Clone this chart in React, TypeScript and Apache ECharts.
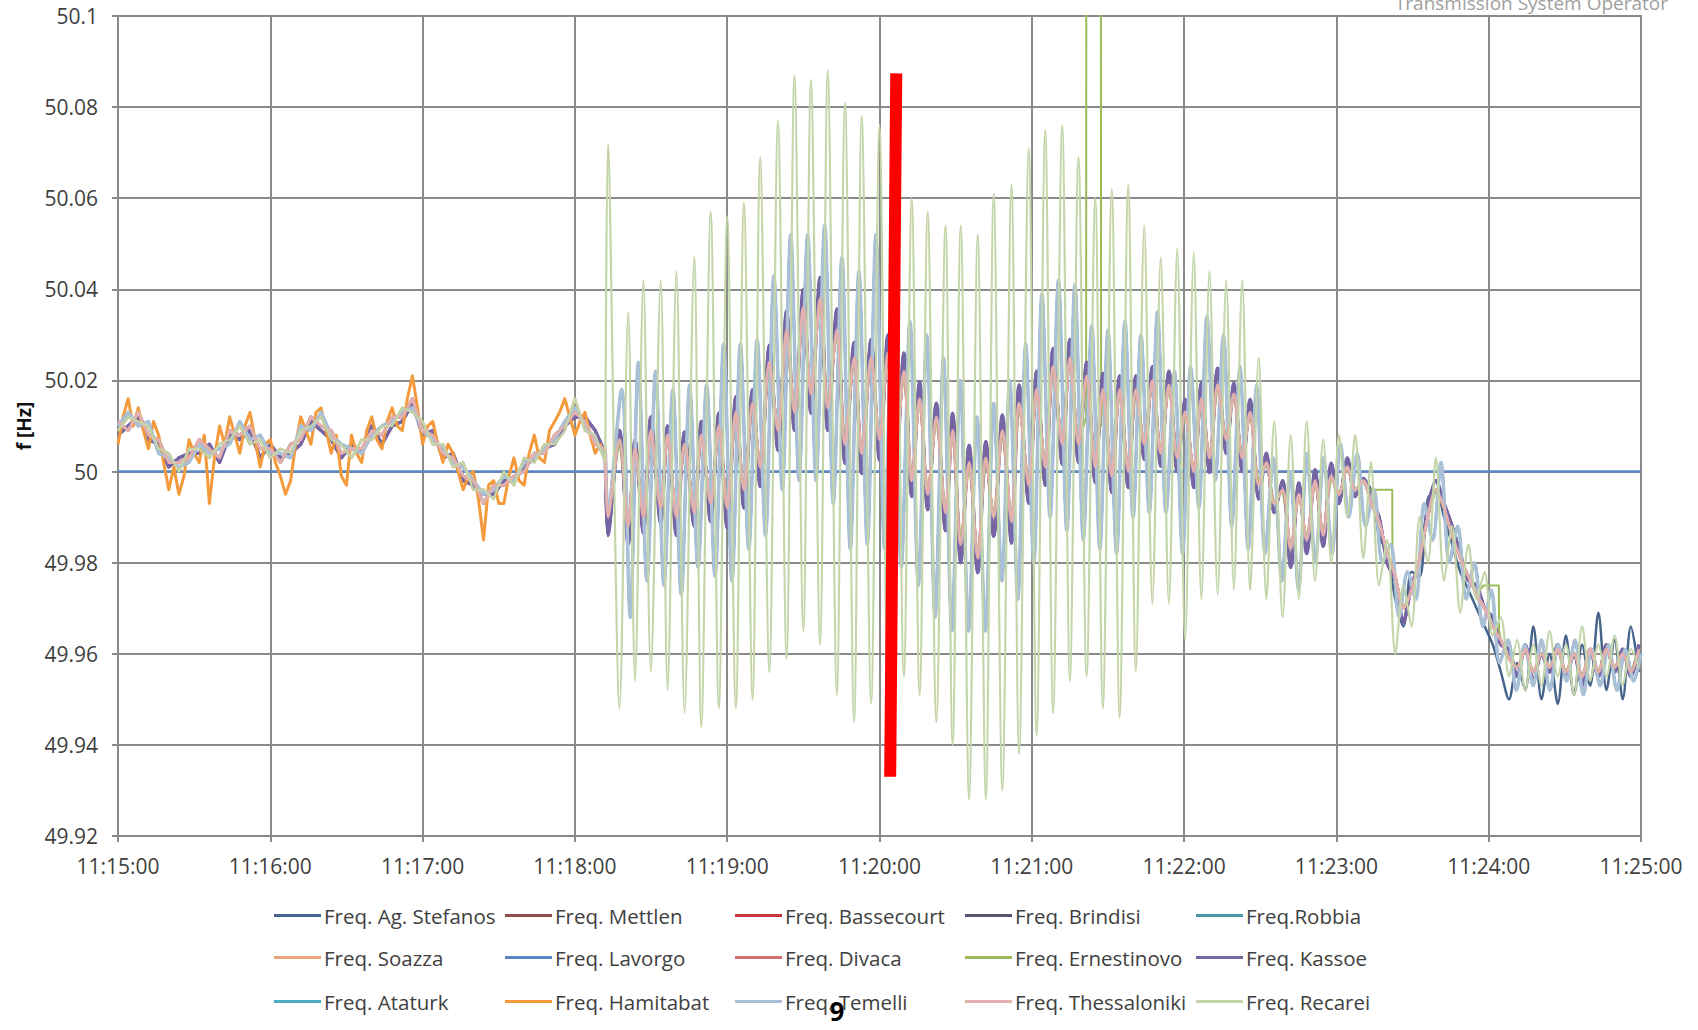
import React, { useEffect, useRef } from "react";
import * as echarts from "echarts";

const W = 1698;
const H = 1030;

// Seconds after 11:15:00
const tEarly = Array.from({ length: 49 }, (_, i) => i * 4);
const tFine = Array.from({ length: 97 }, (_, i) => i * 2);

const hamitabatEarly = [
  50.006, 50.012, 50.016, 50.010, 50.014, 50.009, 50.005, 50.011, 50.008, 50.002,
  49.996, 50.001, 49.995, 49.999, 50.007, 50.004, 50.002, 50.008, 49.993, 50.003,
  50.010, 50.006, 50.012, 50.008, 50.004, 50.010, 50.013, 50.007, 50.001, 50.006,
  50.007, 50.002, 49.999, 49.995, 49.998, 50.006, 50.012, 50.009, 50.006, 50.013,
  50.014, 50.009, 50.004, 50.008, 49.999, 49.997, 50.008, 50.004, 50.002, 50.009,
  50.012, 50.007, 50.005, 50.011, 50.014, 50.010, 50.009, 50.016, 50.021, 50.014,
  50.006, 50.010, 50.011, 50.006, 50.002, 50.006, 50.004, 50.000, 49.996, 49.999,
  50.000, 49.994, 49.985, 49.997, 49.998, 49.993, 49.993, 49.999, 50.003, 49.998,
  49.997, 50.004, 50.008, 50.003, 50.002, 50.009, 50.011, 50.013, 50.016, 50.012,
  50.008, 50.011, 50.013, 50.008, 50.004, 50.006, 50.003,
];

const recareiEarly = [
  50.009, 50.012, 50.011, 50.010, 50.005, 50.004, 50.000, 50.005, 50.005, 50.003,
  50.006, 50.007, 50.010, 50.006, 50.007, 50.003, 50.005, 50.004, 50.009, 50.010,
  50.012, 50.007, 50.006, 50.003, 50.007, 50.007, 50.010, 50.010, 50.014, 50.013,
  50.011, 50.006, 50.006, 50.001, 50.002, 49.996, 49.996, 49.994, 50.000, 49.997,
  50.003, 50.002, 50.006, 50.006, 50.009, 50.016, 50.009, 50.008, 50.002,
];

const thessEarly = [
  50.011, 50.009, 50.013, 50.008, 50.007, 50.002, 50.002, 50.003, 50.007, 50.005,
  50.003, 50.009, 50.008, 50.010, 50.005, 50.005, 50.002, 50.006, 50.007, 50.012,
  50.010, 50.009, 50.004, 50.005, 50.005, 50.009, 50.008, 50.012, 50.012, 50.016,
  50.009, 50.008, 50.004, 50.003, 49.999, 49.998, 49.993, 49.997, 49.997, 49.999,
  50.000, 50.004, 50.004, 50.008, 50.010, 50.013, 50.011, 50.006, 50.005,
];

const temelliEarly = [
  50.010, 50.013, 50.010, 50.011, 50.004, 50.003, 50.001, 50.002, 50.006, 50.004,
  50.005, 50.006, 50.011, 50.007, 50.008, 50.004, 50.004, 50.003, 50.010, 50.009,
  50.013, 50.008, 50.006, 50.005, 50.004, 50.008, 50.010, 50.011, 50.013, 50.014,
  50.009, 50.007, 50.005, 50.002, 50.001, 49.998, 49.995, 49.996, 49.999, 49.998,
  50.002, 50.003, 50.005, 50.007, 50.011, 50.014, 50.010, 50.007, 50.003,
];

const mettlenEarly = [
  50.008, 50.010, 50.012, 50.007, 50.006, 50.001, 50.003, 50.004, 50.004, 50.006,
  50.002, 50.008, 50.007, 50.009, 50.003, 50.006, 50.003, 50.004, 50.006, 50.011,
  50.009, 50.007, 50.003, 50.006, 50.004, 50.010, 50.006, 50.010, 50.011, 50.015,
  50.008, 50.009, 50.003, 50.004, 49.998, 49.997, 49.995, 49.995, 49.998, 49.998,
  50.001, 50.003, 50.005, 50.006, 50.010, 50.012, 50.012, 50.009, 50.004,
];

// Oscillation extrema times (seconds after 11:15:00)
const oscT = [
  193, 197.6, 201, 203.7, 207, 209.9, 213.8, 216.5, 220, 223.2,
  227, 229.8, 233.5, 236.7, 240, 243.4, 246.6, 250, 253, 256.6,
  260, 263.4, 266.5, 270, 273, 276.6, 279.6, 283.2, 286.4, 290,
  293, 296.7, 300, 303.3, 306.3, 309.6, 312.7, 315.8, 319, 322.4,
  326, 328.8, 332, 335.3, 338.7, 341.9, 345, 348.4, 352, 355,
  358.8, 361.9, 365.3, 368.4, 372, 375, 378.4, 381.6, 385, 388,
  391.5, 394.6, 398, 401, 404.3, 407.5, 410.8, 414, 417.3, 420.4,
  423.8, 426.8, 430, 433.2, 436.6, 439.6, 442.9, 446, 449.4, 452.4,
  455.5, 458.8, 462, 465.2, 468.3, 471.6, 474.8, 478, 481, 484.3,
  487.4, 490.6,
  493.6, 496.8, 500, 503.2, 506.4, 509.6, 512.8, 516, 519.2, 522.4,
  525.6, 528.8, 532, 535.2, 538.4, 541.6, 544.8, 548, 551.2, 554.4,
  557.6, 560.8, 564, 567.2, 570.4, 573.6, 576.8, 580, 583.2, 586.4,
  589.6, 592.8, 596, 599.2,
];

const recareiOsc = [
  50.072, 49.948, 50.035, 49.954, 50.042, 49.956, 50.042, 49.952, 50.044, 49.947,
  50.047, 49.944, 50.057, 49.948, 50.056, 49.948, 50.059, 49.950, 50.069, 49.956,
  50.077, 49.959, 50.087, 49.965, 50.086, 49.962, 50.088, 49.951, 50.081, 49.945,
  50.078, 49.949, 50.076, 49.947, 50.070, 49.955, 50.060, 49.951, 50.057, 49.945,
  50.054, 49.940, 50.054, 49.928, 50.052, 49.928, 50.061, 49.930, 50.063, 49.938,
  50.071, 49.942, 50.075, 49.947, 50.076, 49.954, 50.069, 49.955, 50.060, 49.948,
  50.062, 49.946, 50.063, 49.956, 50.054, 49.971, 50.047, 49.971, 50.049, 49.963,
  50.048, 49.972, 50.044, 49.973, 50.042, 49.974, 50.042, 49.974, 50.025, 49.972,
  50.011, 49.968, 50.008, 49.972, 50.011, 49.976, 50.007, 49.980, 50.008, 49.990,
  50.008, 49.981,
  50.002, 49.975, 49.985, 49.960, 49.975, 49.966, 49.990, 49.980, 50.003, 49.976,
  49.988, 49.969, 49.984, 49.972, 49.978, 49.964, 49.968, 49.955, 49.963, 49.952,
  49.962, 49.953, 49.965, 49.955, 49.962, 49.951, 49.966, 49.954, 49.962, 49.955,
  49.964, 49.953, 49.961, 49.957,
];

const kassoeOsc = [
  49.986, 50.009, 49.984, 50.007, 49.9865, 50.012, 49.9887, 50.010, 49.986, 50.0087,
  49.988, 50.011, 49.989, 50.0128, 49.9876, 50.0164, 49.992, 50.018, 49.9967, 50.0277,
  50.0047, 50.0353, 50.009, 50.040, 50.0128, 50.0426, 50.009, 50.0357, 50.0018, 50.0284,
  49.9996, 50.029, 50.0025, 50.030, 49.998, 50.026, 49.9945, 50.0197, 49.9916, 50.015,
  49.987, 50.0128, 49.980, 50.0058, 49.9778, 50.0066, 49.9858, 50.0124, 49.9843, 50.019,
  49.993, 50.022, 49.997, 50.027, 50.0016, 50.029, 50.002, 50.024, 49.9976, 50.0216,
  49.9954, 50.021, 49.9965, 50.021, 50.0027, 50.023, 50.0012, 50.022, 50.000, 50.0158,
  49.9965, 50.0194, 49.9998, 50.0227, 50.004, 50.0194, 50.000, 50.0158, 49.994, 50.004,
  49.991, 49.998, 49.979, 49.9975, 49.982, 50.0004, 49.9836, 50.0018, 49.993, 50.003,
  49.9945, 49.9985,
  49.994, 49.990, 49.980, 49.976, 49.967, 49.975, 49.980, 49.992, 49.998, 49.993,
  49.988, 49.982, 49.976, 49.975, 49.970, 49.968, 49.962, 49.961, 49.955, 49.962,
  49.954, 49.960, 49.956, 49.962, 49.955, 49.960, 49.953, 49.961, 49.955, 49.962,
  49.956, 49.961, 49.955, 49.962,
];

const thessOsc = [
  49.990, 50.007, 49.988, 50.005, 49.990, 50.009, 49.992, 50.008, 49.990, 50.006,
  49.991, 50.008, 49.993, 50.010, 49.992, 50.013, 49.996, 50.015, 50.001, 50.024,
  50.009, 50.031, 50.013, 50.036, 50.017, 50.038, 50.014, 50.031, 50.006, 50.025,
  50.004, 50.025, 50.007, 50.026, 50.003, 50.022, 49.998, 50.016, 49.995, 50.012,
  49.991, 50.009, 49.984, 50.002, 49.981, 50.003, 49.990, 50.009, 49.989, 50.015,
  49.997, 50.018, 50.001, 50.023, 50.006, 50.025, 50.006, 50.021, 50.001, 50.018,
  49.999, 50.018, 50.000, 50.018, 50.006, 50.020, 50.004, 50.019, 50.003, 50.013,
  50.000, 50.016, 50.003, 50.019, 50.007, 50.017, 50.003, 50.013, 49.997, 50.002,
  49.993, 49.996, 49.983, 49.995, 49.985, 49.998, 49.986, 49.999, 49.995, 50.001,
  49.996, 49.998,
  49.993, 49.989, 49.982, 49.977, 49.970, 49.974, 49.981, 49.990, 49.996, 49.992,
  49.986, 49.981, 49.977, 49.973, 49.970, 49.966, 49.963, 49.959, 49.957, 49.961,
  49.956, 49.960, 49.957, 49.961, 49.956, 49.960, 49.955, 49.961, 49.956, 49.961,
  49.957, 49.960, 49.956, 49.961,
];

const stefanosLate = [
  49.996, 49.986, 49.982, 49.972, 49.966, 49.978, 49.977, 49.994, 49.996, 49.990,
  49.984, 49.978, 49.974, 49.970, 49.966, 49.962, 49.956, 49.950, 49.958, 49.952,
  49.966, 49.950, 49.960, 49.949, 49.964, 49.951, 49.962, 49.953, 49.969, 49.952,
  49.963, 49.950, 49.966, 49.956,
];

const temelliOsc: [number, number][] = [
  [193, 49.992], [198.4, 50.018], [201.8, 49.968], [205, 50.024], [208.4, 49.976],
  [211.8, 50.022], [215.1, 49.975], [218.6, 50.018], [221.9, 49.973], [225.2, 50.019],
  [228.5, 49.979], [231.9, 50.019], [235.2, 49.977], [238.6, 50.028], [241.9, 49.976],
  [245.2, 50.028], [248.5, 49.983], [251.8, 50.029], [255.1, 49.986], [258.4, 50.043],
  [261.7, 49.996], [265, 50.052], [268.3, 49.998], [271.7, 50.052], [275, 49.998],
  [278.4, 50.054], [281.8, 49.993], [285.2, 50.047], [288.5, 49.983], [291.9, 50.044],
  [295.2, 49.984], [298.6, 50.052], [302, 49.983], [305.3, 50.045], [308.6, 49.979],
  [312, 50.033], [315.3, 49.975], [318.6, 50.030], [321.9, 49.968], [325.2, 50.025],
  [328.5, 49.965], [331.8, 50.020], [335.1, 49.965], [338.4, 50.012], [341.7, 49.965],
  [345, 50.015], [348.2, 49.976], [351.3, 50.020], [354.5, 49.972], [357.6, 50.028],
  [360.8, 49.980], [364, 50.039], [367.2, 49.990], [370.5, 50.042], [373.8, 49.987],
  [377, 50.041], [380.3, 49.985], [383.6, 50.032], [386.8, 49.983], [390, 50.031],
  [393.4, 49.982], [396.7, 50.033], [399.9, 49.990], [403, 50.030], [406.3, 49.991],
  [409.5, 50.035], [412.9, 49.991], [416.2, 50.022], [419.4, 49.982], [422.6, 50.023],
  [425.8, 49.992], [429, 50.034], [432.3, 49.998], [435.5, 50.030], [438.8, 49.988],
  [442, 50.023], [445.3, 49.983], [448.6, 50.019], [451.9, 49.982], [455.2, 50.003],
  [458.5, 49.976], [461.8, 50.000], [465.1, 49.974], [468.4, 50.004], [471.7, 49.980],
  [475, 50.003], [478.3, 49.982], [481.6, 50.006], [484.9, 49.990], [488.2, 50.004],
  [491.5, 49.988], [494.8, 49.996], [498.1, 49.980], [501.4, 49.984], [504.7, 49.968],
  [508, 49.978], [511.3, 49.972], [514.6, 49.993], [517.9, 49.985], [521.2, 50.002],
  [524.5, 49.980], [527.8, 49.988], [531.1, 49.972], [534.4, 49.980], [537.7, 49.966],
  [541, 49.974], [544.3, 49.958], [547.6, 49.963], [550.9, 49.952], [554.2, 49.962],
  [557.5, 49.953], [560.8, 49.963], [564.1, 49.952], [567.4, 49.962], [570.7, 49.954],
  [574, 49.963], [577.3, 49.951], [580.6, 49.961], [583.9, 49.953], [587.2, 49.962],
  [590.5, 49.952], [593.8, 49.961], [597.1, 49.954], [600, 49.960],
];

// Ernestinovo: held values (data gaps) visible as steps / spikes
const ernestinovoSteps: [number, number][] = [
  [381.4, 50.012], [381.5, 50.15], [387.2, 50.15], [387.3, 50.010],
  [492, 49.996], [502, 49.996], [502.1, 49.979],
  [538, 49.975], [544, 49.975], [544.1, 49.965],
];
const ernestinovoGaps: [number, number][] = [[381.4, 387.3], [492, 502.1], [538, 544.1]];

const lavorgo: [number, number][] = [[0, 50.0], [600, 50.0]];
const redBar: [number, number][] = [[306.6, 50.0874], [304.2, 49.933]];

type Pt = number[];
const early = (vs: number[]): Pt[] => vs.map((v, i) => [tEarly[i], v]);
const osc = (vs: number[]): Pt[] => vs.map((v, i) => [oscT[i], v]);

const ernestinovoOscPts: Pt[] = [
  ...osc(thessOsc).filter(([t]) => !ernestinovoGaps.some(([a, b]) => t >= a && t <= b)),
  ...ernestinovoSteps,
].sort((a, b) => a[0] - b[0]);

interface Def { name: string; color: string; width: number; early: Pt[]; osc: Pt[]; oscSmooth: number | boolean }

const defs: Def[] = [
  { name: "Freq. Ag. Stefanos", color: "#46648c", width: 2.5, early: early(mettlenEarly),
    osc: osc([...kassoeOsc.slice(0, 92), ...stefanosLate]), oscSmooth: 0.3 },
  { name: "Freq. Mettlen", color: "#8e4c4a", width: 2.5, early: early(mettlenEarly), osc: osc(thessOsc), oscSmooth: 0.3 },
  { name: "Freq. Bassecourt", color: "#c8373a", width: 2.5, early: early(mettlenEarly), osc: osc(kassoeOsc), oscSmooth: 0.3 },
  { name: "Freq. Brindisi", color: "#5b5470", width: 3, early: early(thessEarly), osc: osc(kassoeOsc), oscSmooth: 0.3 },
  { name: "Freq.Robbia", color: "#4a96ab", width: 2.5, early: early(temelliEarly), osc: temelliOsc, oscSmooth: 0.3 },
  { name: "Freq. Soazza", color: "#e8a57a", width: 2.5, early: early(recareiEarly), osc: osc(thessOsc), oscSmooth: 0.3 },
  { name: "Freq. Lavorgo", color: "#5a86c4", width: 2.5, early: lavorgo, osc: [], oscSmooth: false },
  { name: "Freq. Divaca", color: "#d26f70", width: 2.5, early: early(thessEarly), osc: osc(thessOsc), oscSmooth: 0.3 },
  { name: "Freq. Ernestinovo", color: "#9bbb59", width: 2, early: early(recareiEarly), osc: ernestinovoOscPts, oscSmooth: false },
  { name: "Freq. Kassoe", color: "#7565a5", width: 3.5, early: early(mettlenEarly), osc: osc(kassoeOsc), oscSmooth: 0.3 },
  { name: "Freq. Ataturk", color: "#4bacc6", width: 2.5, early: early(temelliEarly), osc: temelliOsc, oscSmooth: 0.3 },
  { name: "Freq. Hamitabat", color: "#f39a3c", width: 3, early: hamitabatEarly.map((v, i) => [tFine[i], v]), osc: [], oscSmooth: false },
  { name: "Freq. Temelli", color: "#a9c0d6", width: 3.5, early: early(temelliEarly), osc: temelliOsc, oscSmooth: 0.3 },
  { name: "Freq. Thessaloniki", color: "#e3b1ad", width: 3, early: early(thessEarly), osc: osc(thessOsc), oscSmooth: 0.3 },
  { name: "Freq. Recarei", color: "#c3d5a9", width: 2.2, early: early(recareiEarly), osc: osc(recareiOsc), oscSmooth: 0.3 },
];

const legendRows = [
  ["Freq. Ag. Stefanos", "Freq. Mettlen", "Freq. Bassecourt", "Freq. Brindisi", "Freq.Robbia"],
  ["Freq. Soazza", "Freq. Lavorgo", "Freq. Divaca", "Freq. Ernestinovo", "Freq. Kassoe"],
  ["Freq. Ataturk", "Freq. Hamitabat", "Freq. Temelli", "Freq. Thessaloniki", "Freq. Recarei"],
];
const legendX = [274, 505, 735, 965, 1196];
const legendY = [918, 960, 1004];

const FONT = "Open Sans";
const GRID_COLOR = "#8a8a8a";
const LABEL_COLOR = "#404040";

function fmtTime(v: number): string {
  const m = 15 + Math.floor(v / 60);
  const s = Math.round(v % 60);
  return `11:${m}:${String(s).padStart(2, "0")}`;
}

export default function App() {
  const ref = useRef<HTMLDivElement>(null);
  useEffect(() => {
    if (!ref.current) return;
    const chart = echarts.init(ref.current, undefined, { renderer: "svg" });
    const legends: any[] = [];
    legendRows.forEach((row, r) =>
      row.forEach((name, c) => {
        legends.push({
          data: [{ name, icon: "rect" }],
          left: legendX[c],
          top: legendY[r] - 13,
          itemWidth: 47,
          itemHeight: 3,
          itemGap: 0,
          padding: 0,
          selectedMode: false,
          textStyle: { fontFamily: FONT, fontSize: 20.5, color: LABEL_COLOR, padding: [0, 0, 0, -2] },
        });
      })
    );
    const series: any[] = [];
    defs.forEach((d) => {
      const base = {
        name: d.name,
        type: "line",
        showSymbol: false,
        symbol: "none",
        clip: true,
        silent: true,
        color: d.color,
        lineStyle: { color: d.color, width: d.width, join: "round" },
      };
      series.push({ ...base, data: d.early, smooth: false });
      if (d.osc.length) {
        const last = d.early[d.early.length - 1];
        series.push({ ...base, data: [last, ...d.osc], smooth: d.oscSmooth });
      }
    });
    series.push({
      name: "marker",
      type: "line",
      data: redBar,
      showSymbol: false,
      symbol: "none",
      silent: true,
      z: 20,
      color: "#ff0000",
      lineStyle: { color: "#ff0000", width: 12, cap: "butt" },
    });
    chart.setOption({
      animation: false,
      backgroundColor: "#ffffff",
      textStyle: { fontFamily: FONT },
      grid: { left: 118, right: 57, top: 16, bottom: 194, show: true, borderColor: GRID_COLOR, borderWidth: 2 },
      xAxis: {
        type: "value",
        min: 0,
        max: 600,
        interval: 60,
        axisLine: { lineStyle: { color: GRID_COLOR, width: 2 } },
        axisTick: { show: true, length: 6, lineStyle: { color: GRID_COLOR, width: 2 } },
        axisLabel: { formatter: fmtTime, fontFamily: FONT, fontSize: 21, color: LABEL_COLOR, margin: 19 },
        splitLine: { show: true, lineStyle: { color: GRID_COLOR, width: 2 } },
      },
      yAxis: {
        type: "value",
        min: 49.92,
        max: 50.1,
        interval: 0.02,
        name: "f [Hz]",
        nameLocation: "middle",
        nameRotate: 90,
        nameGap: 84,
        nameTextStyle: { fontFamily: FONT, fontWeight: "bold", fontSize: 19, color: "#111" },
        axisLine: { show: true, lineStyle: { color: GRID_COLOR, width: 2 } },
        axisTick: { show: true, length: 6, lineStyle: { color: GRID_COLOR, width: 2 } },
        axisLabel: {
          formatter: (v: number) => String(Number(v.toFixed(2))),
          fontFamily: FONT,
          fontSize: 21,
          color: LABEL_COLOR,
          margin: 20,
        },
        splitLine: { show: true, lineStyle: { color: GRID_COLOR, width: 2 } },
      },
      legend: legends,
      series,
      graphic: [
        {
          type: "text",
          x: 1668,
          y: 3,
          silent: true,
          style: {
            text: "Transmission System Operator",
            fill: "#a0a0a0",
            font: `19px "${FONT}"`,
            align: "right",
            verticalAlign: "middle",
          },
        },
        {
          type: "text",
          x: 837,
          y: 1011,
          silent: true,
          style: {
            text: "9",
            fill: "#000000",
            font: `bold 26px "${FONT}"`,
            align: "center",
            verticalAlign: "middle",
          },
        },
      ],
    });
    return () => chart.dispose();
  }, []);
  return (
    <div
      ref={ref}
      style={{ position: "fixed", left: 0, top: 0, width: W, height: H, background: "#fff" }}
    />
  );
}
